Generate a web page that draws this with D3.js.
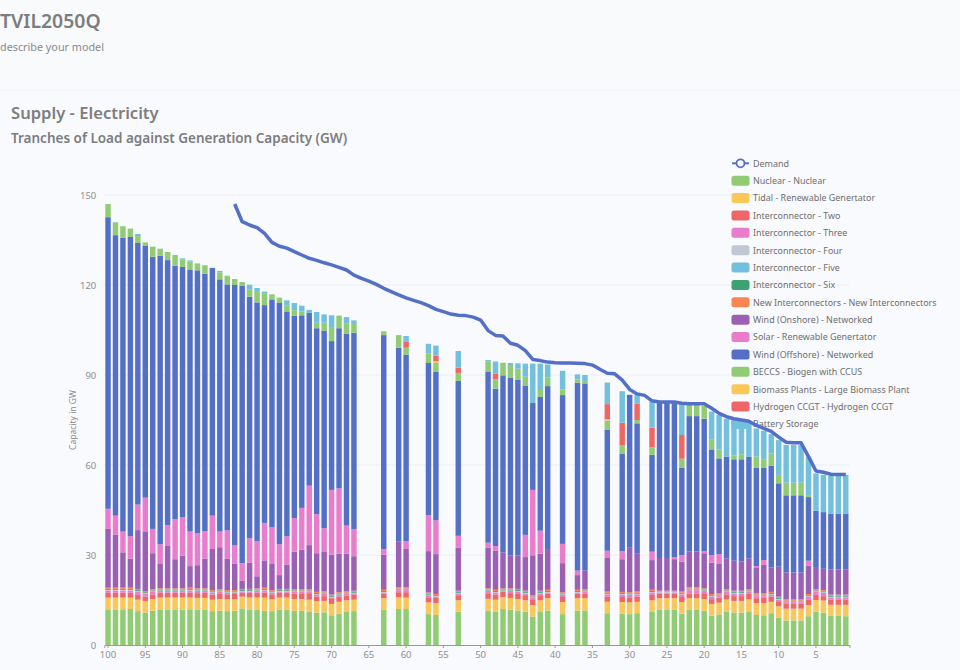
<!DOCTYPE html>
<html><head><meta charset="utf-8">
<script src="https://d3js.org/d3.v7.min.js"></script>
<style>
html,body{margin:0;padding:0;background:#f9fafc;overflow:hidden}
text{font-family:"Noto Sans","Open Sans",sans-serif}
</style></head><body><div id="chart"></div>
<script>
const allTranches=[100,99,98,97,96,95,94,93,92,91,90,89,88,87,86,85,84,83,82,81,80,79,78,77,76,75,74,73,72,71,70,69,68,67,66,65,64,63,62,61,60,59,58,57,56,55,54,53,52,51,50,49,48,47,46,45,44,43,42,41,40,39,38,37,36,35,34,33,32,31,30,29,28,27,26,25,24,23,22,21,20,19,18,17,16,15,14,13,12,11,10,9,8,7,6,5,4,3,2,1];
const xTickLabels=[100,95,90,85,80,75,70,65,60,55,50,45,40,35,30,25,20,15,10,5];
const yTickLabels=[0,30,60,90,120,150];
const barTranches=[100,99,98,97,96,95,94,93,92,91,90,89,88,87,86,85,84,83,82,81,80,79,78,77,76,75,74,73,72,71,70,69,68,67,
63,61,60,57,56,53,
49,48,47,46,45,44,43,42,41,
39,37,36,33,31,30,29,
27,26,25,24,23,22,21,20,19,18,17,16,15,14,13,12,11,10,9,8,7,6,5,4,3,2,1];
const demandTranches=[83,82,81,80,79,78,77,76,75,74,73,72,71,70,69,68,67,66,65,64,63,62,61,60,59,58,57,56,55,54,53,52,51,50,49,48,47,46,45,44,43,42,41,40,39,38,37,36,35,34,33,32,31,30,29,28,27,26,25,24,23,22,21,20,19,18,17,16,15,14,13,12,11,10,9,8,7,6,5,4,3,2,1];
const demand=[147,141.1,140,139.1,137.2,134.2,132.9,132.3,131.1,130,128.9,128.2,127.4,126.7,125.9,125,123.3,122.2,121.3,120.2,118.9,117.8,116.7,115.7,114.9,114.1,113.1,111.9,111.1,110.3,109.9,109.8,109.3,108.3,104.8,103.2,103,100.6,99.9,98.1,95.2,94.8,94.3,94.1,94,94,93.9,93.8,93.3,91.9,90.6,90.4,88.3,85.2,83.7,83.2,81.4,81,81,81,80.6,80.4,80.4,80.4,78.9,77.2,76.1,75.4,75,74.6,73.2,72.2,71.2,69.3,67.6,67.4,67.4,62.8,58,57.6,56.9,56.8,56.8];

const nuclear=[11.9,11.7,11.9,12,11.3,10.8,11.4,11.9,11.7,11.7,11.8,11.9,11.7,11.7,11.3,11.4,11.3,11.4,12.2,11.7,11.7,11.4,11.3,11.7,11.7,11.4,11.4,11.2,10.8,10.9,9.9,10.4,11,11.3,
11.7,12,12,10.3,10,11.1,
11.5,11.2,12,11.8,11.5,11.1,9.5,11,11.5,
10.3,11.5,11.5,10.6,10.4,10.3,10.6,
11,11.7,11.7,11.7,10.4,11.7,11.7,11.4,9.8,10.2,11.2,10.8,10.8,11.2,10,9.9,10.6,9.1,8.1,8.2,8.2,9.6,11.1,10.8,9.7,9.7,9.6];
const tidal=[3.9,4.1,3.9,3.8,3.8,3.8,3.9,3.9,4.1,4.1,4,3.9,4,4,3.8,3.9,3.9,3.8,3.9,4.1,4.1,4.4,3.9,4.1,4.1,3.9,3.9,3.9,3.8,3.8,3.8,4,3.9,3.8,
3.9,3.9,3.8,3.9,4,3.8,
3.9,3.9,4,3.9,3.8,3.8,3.8,3.9,4.1,
4,4.1,4.1,3.8,3.9,3.9,3.8,
3.9,3.9,3.9,3.9,3.9,3.9,3.9,3.9,3.9,3.9,4,3.9,3.9,4,3.9,4,3.8,3.8,4,3.9,3.9,3.7,3.9,4,3.7,3.7,3.8];
const interTwo=[1.6,1.6,1.6,1.6,1.6,1.5,1.6,1.6,1.6,1.6,1.6,1.6,1.6,1.7,1.7,1.7,1.7,1.8,1.3,1.6,1.6,1.6,1.7,1.6,1.6,1.9,1.7,1.9,1.6,1.6,1.9,1.7,1.5,1.6,
1.6,1.7,1.8,1.7,1.7,1.7,
1.6,1.7,1.8,1.6,1.7,1.7,1.7,1.7,1.6,
1.7,1.6,1.6,1.7,1.7,1.7,1.7,
1.8,1.6,1.6,1.6,1.7,1.6,1.6,1.7,1.6,1.7,1.7,1.6,1.6,1.8,1.7,1.8,1.7,1.7,1.6,1.6,1.6,1.9,1.7,1.5,1.8,1.8,1.8];
const interThree=[.8,.8,.8,.8,1.1,1,.8,.6,.6,.6,.6,.8,.7,.6,.6,.7,.5,.4,.4,.4,.6,.8,.5,.4,.4,.5,.7,.7,.6,.7,.3,.6,.6,.5,
.3,.7,.7,.7,.4,.6,
1,.7,.2,.7,.8,.6,.7,.6,.3,
.7,.3,.5,.8,.8,.8,.8,
.8,.3,.3,.3,.9,1.1,1.1,1,.8,.5,.8,.9,.9,.7,.7,.6,.7,.6,.6,.6,.6,.9,1,1.1,.7,.7,.7];
const interFour=[.1,.1,.1,.1,.1,.1,.1,.1,.1,.1,.1,.1,.1,.1,.1,.1,.1,.1,.1,.1,.1,.1,.1,.1,.1,.1,.1,.1,.1,.1,.1,.1,.1,.1,
.1,.1,.1,.1,.1,.1,
.1,.1,.1,.1,.1,.1,.1,.1,.1,
.1,.1,.1,.1,.1,.1,.1,
.1,.1,.1,.1,.1,.1,.1,.1,.1,.1,.1,.1,.1,.1,.1,.1,.1,.1,.1,.1,.1,.1,.1,.1,.1,.1,.1];
const interFive=[.1,.1,.1,.1,.1,.1,.1,.1,.1,.1,.1,.1,.1,.1,.1,.1,.1,.1,.1,.1,.1,.1,.1,.1,.1,.1,.1,.1,.1,.1,.1,.1,.1,.1,
.1,.1,.1,.1,.1,.1,
.1,.1,.1,.1,.1,.1,.1,.1,.1,
.1,.1,.1,.1,.1,.1,.1,
.1,.1,.1,.1,.1,.1,.1,.1,.1,.1,.1,.1,.1,.1,.1,.1,.1,.1,.1,.1,.1,.1,.1,.1,.1,.1,.1];
const interSix=[.3,.3,.3,.3,.3,.3,.3,.3,.3,.3,.3,.3,.3,.3,.3,.3,.3,.3,.3,.3,.3,.3,.3,.3,.3,.3,.3,.3,.3,.3,.3,.3,.3,.3,
.3,.3,.3,.3,.3,.3,
.3,.3,.3,.3,.3,.3,.3,.3,.3,
.3,.3,.3,.3,.3,.3,.3,
.3,.1,.1,.1,.3,.3,.3,.3,.3,.3,.3,.3,.3,.3,.3,.3,.3,.3,.3,.3,.3,.3,.3,.3,.3,.3,.3];
const newInter=[.4,.4,.4,.4,.4,.4,.4,.4,.4,.4,.4,.4,.4,.4,.4,.4,.4,.4,.4,.4,.4,.4,.4,.4,.4,.4,.4,.4,.4,.4,.4,.4,.4,.4,
.4,.4,.4,.4,.4,.4,
.4,.4,.4,.4,.4,.4,.4,.4,.4,
.4,.4,.4,.4,.4,.4,.4,
.4,.3,.3,.3,.4,.4,.4,.4,.4,.4,.4,.4,.4,.4,.4,.4,.4,.4,.4,.4,.4,.4,.4,.4,.4,.4,.4];
const windOnshore=[19.6,17.6,11.8,9.7,19.6,19.9,12,8.1,14.1,9.7,10.9,7.2,7.7,9.9,13.7,14,10.4,8.9,2.7,8.7,4,9.1,8.7,4.6,8,12.5,13.2,14.7,12.9,13.1,13.3,12.8,12.5,11.5,
11.7,15.4,12.8,13.8,13.3,14.3,
13.5,13,12,11,11.1,11.2,13.3,12.3,13.3,
9.7,4.9,6.3,11.2,10.9,15,12.8,
9.9,10.9,10.9,10.5,10,12,12,11.7,10.4,9.8,10.3,10,9.8,10.3,8.7,9.5,8.2,10,9,9,9,9.4,7.1,7.1,8.4,8.4,8.4];
const solar=[6.7,6.4,6.9,7.5,8.5,11.2,8.1,6.6,6.9,13.3,12.8,11.5,10.6,9.2,11.1,5.2,9.5,6,5.9,8.2,11.7,12.5,12.2,10.3,9.5,11.2,13.9,19.8,13,7.9,21.6,21.8,9.4,9,
1.9,0,2.6,12,11.3,4,
1.7,1.6,0,0,0,7.4,21.8,7.7,0,
6.4,1.5,0,2.4,2.7,0,0,
2.8,0,0,.6,2.2,0,0,.6,2.5,3.3,0,0,0,0,.4,1.6,0,0,0,0,0,1.7,0,0,0,0,0];
const windOffshore=[97.2,93.5,97.9,99.7,87.2,83.9,90.7,96.2,88.4,84.5,83.4,87.2,87.7,85.8,82.6,84.1,82,86.8,92.5,80.5,79.6,72.6,76,80.4,75,67.4,64.2,57.6,62,65.9,49.6,53.4,63.9,65.5,
71.3,64.5,62.2,50.7,49.4,51.6,
56.9,52.4,59,59.1,58.7,49.8,29,44.6,54.6,
49.6,62.6,62.3,40.3,32.4,50.8,43.3,
32.3,52.1,52.1,51.4,29,45.1,45.1,44.2,35.3,31.9,33.8,33.8,34,33.8,32.7,30.7,33.8,27.8,25.7,25.7,25.7,21.2,19.1,18.9,18.5,18.5,18.5];
const beccs=[4.4,4.3,3.9,2.8,2.3,1.2,3.4,2.3,2.7,3.6,2.6,2.8,2.3,2.8,0,2.3,2.9,2,1.2,2.3,3.5,4,1.7,1.8,1.9,1.9,1.3,0,1.8,2.6,4.4,4.2,3.4,2.9,
1.3,4.2,2.3,3.2,3.1,2.7,
3.6,3.2,4.2,4,3.6,2.9,0,2.3,2.9,
1.9,1.1,.8,3.1,2.8,0,1.1,
2.5,0,0,0,3.1,3.7,3.7,4.3,3.2,3,0,1.3,1.7,0,3.8,2.9,4.2,2.8,4.2,4.2,4.2,.4,0,0,0,0,0];
const biomass=[0,0,0,0,0,0,0,0,0,0,0,0,0,0,0,0,0,0,0,0,0,0,0,0,0,0,0,0,0,0,0,0,0,0,
0,0,0,0,.5,0,
0,0,0,0,0,0,0,0,0,
0,0,0,.4,0,0,0,
0,0,0,0,0,0,0,0,0,0,0,0,0,0,0,0,0,0,0,0,0,0,0,0,0,0,0];
const hydrogen=[0,0,0,0,0,0,0,0,0,0,0,0,0,0,0,0,0,0,0,0,0,0,0,0,0,0,0,0,0,0,0,0,0,0,
0,0,2.1,0,1.8,1.8,
0,1.9,0,0,0,0,0,0,0,
0,0,0,5.1,7.6,0,5.4,
6.5,0,0,0,7.9,0,0,0,0,0,0,0,0,0,0,0,0,0,0,0,0,0,0,0,0,0,0];
const battery=[0,0,0,0,.7,0,0,0,0,0,.3,.4,0,0,0,.5,0,0,0,1.7,1.3,.5,0,0,1.8,2.4,1.9,1,3.6,2.8,4.2,0,2.2,1.2,
0,0,1.8,3.2,3.4,5.5,
.4,4,0,1,1.8,4.4,13.1,8.8,4.3,
6.2,1.7,2,7.2,10.5,0,2.9,
8.7,0,0,0,10.6,0,0,0,9.4,11.5,12.7,11.8,11.4,11.7,9.4,9.5,6.4,11.6,12.6,12.6,12.6,13.1,12.4,12.4,12.7,12.7,13];

const legendNames=["Demand","Nuclear - Nuclear","Tidal - Renewable Genertator","Interconnector - Two","Interconnector - Three","Interconnector - Four","Interconnector - Five","Interconnector - Six","New Interconnectors - New Interconnectors","Wind (Onshore) - Networked","Solar - Renewable Genertator","Wind (Offshore) - Networked","BECCS - Biogen with CCUS","Biomass Plants - Large Biomass Plant","Hydrogen CCGT - Hydrogen CCGT","Battery Storage"];
const seriesColors=["#5470c6","#91cc75","#fac858","#ee6666","#ea7ccc","#c0c8d4","#73c0de","#3ba272","#fc8452","#9a60b4","#ea7ccc","#5470c6","#91cc75","#fac858","#ee6666","#73c0de"];
const stackSeries=[nuclear,tidal,interTwo,interThree,interFour,interFive,interSix,newInter,windOnshore,solar,windOffshore,beccs,biomass,hydrogen,battery];

const W=960,H=670;
const svg=d3.select("#chart").append("svg").attr("width",W).attr("height",H).style("display","block");
svg.append("rect").attr("x",-4).attr("y",90).attr("width",W+10).attr("height",H).attr("rx",6)
  .attr("fill","#f9fafd").attr("stroke","#f2f3f7");

const txtCol="#7d7d7d";
svg.append("text").attr("x",0).attr("y",28).attr("font-size",19.4).attr("font-weight",600).attr("fill",txtCol).text("TVIL2050Q");
svg.append("text").attr("x",0).attr("y",51).attr("font-size",10.8).attr("fill","#8a8a8a").text("describe your model");
svg.append("text").attr("x",11).attr("y",119).attr("font-size",16.6).attr("font-weight",600).attr("fill",txtCol).text("Supply - Electricity");
svg.append("text").attr("x",11).attr("y",143).attr("font-size",13.5).attr("font-weight",600).attr("fill",txtCol).text("Tranches of Load against Generation Capacity (GW)");

const x=d3.scaleBand().domain(allTranches).range([104.3,849.5]).paddingInner(.27).paddingOuter(.135);
const y=d3.scaleLinear().domain([0,150]).range([645,195]);

// grid + axes
svg.append("g").selectAll("line").data(yTickLabels.filter(d=>d>0)).join("line")
  .attr("x1",x.range()[0]).attr("x2",x.range()[1]).attr("y1",d=>y(d)).attr("y2",d=>y(d))
  .attr("stroke","#eceef5");
const yAxis=d3.axisLeft(y).tickValues(yTickLabels).tickSize(0).tickPadding(8);
const gy=svg.append("g").attr("transform",`translate(${x.range()[0]},0)`).call(yAxis);
gy.select(".domain").remove();
gy.selectAll("text").attr("font-size",9.5).attr("fill","#8f8f8f").style("font-family","'Noto Sans',sans-serif");
const xAxis=d3.axisBottom(x).tickValues(xTickLabels).tickSize(3).tickPadding(3);
const gx=svg.append("g").attr("transform","translate(0,645)").call(xAxis);
gx.select(".domain").attr("stroke","#9a9a9a");
gx.selectAll("line").attr("stroke","#9a9a9a");
gx.selectAll("text").attr("font-size",9.5).attr("fill","#8f8f8f").style("font-family","'Noto Sans',sans-serif");
svg.append("text").attr("transform",`translate(76,420) rotate(-90)`).attr("text-anchor","middle")
  .attr("font-size",8.5).attr("fill","#8a8a8a").text("Capacity in GW");

// legend (sits beneath the marks)
const legY=i=>163.3+i*17.38;
const leg=svg.append("g");
legendNames.forEach((n,i)=>{
  const g=leg.append("g").attr("transform",`translate(0,${legY(i)})`);
  if(i===0){
    g.append("line").attr("x1",732).attr("x2",749).attr("stroke",seriesColors[0]).attr("stroke-width",2);
    g.append("circle").attr("cx",740.5).attr("r",4).attr("fill","#f9fafd").attr("stroke",seriesColors[0]).attr("stroke-width",1.8);
  } else {
    g.append("rect").attr("x",731.5).attr("y",-5).attr("width",18).attr("height",10).attr("rx",2.5).attr("fill",seriesColors[i]);
  }
  g.append("text").attr("x",753).attr("y",3.3).attr("font-size",8.95).attr("fill","#6e6e6e").text(n);
});

// stacked bars
const rows=barTranches.map((t,i)=>{const r={tranche:t};stackSeries.forEach((s,k)=>r["s"+k]=s[i]);return r;});
const stack=d3.stack().keys(stackSeries.map((s,k)=>"s"+k))(rows);
svg.append("g").selectAll("g").data(stack).join("g").attr("fill",(d,i)=>seriesColors[i+1])
 .selectAll("rect").data(d=>d).join("rect")
  .attr("x",d=>x(d.data.tranche)).attr("width",x.bandwidth())
  .attr("y",d=>y(d[1])).attr("height",d=>Math.max(0,y(d[0])-y(d[1])));

// demand line
const line=d3.line().x((d,i)=>x(demandTranches[i])+x.bandwidth()/2).y(d=>y(d));
svg.append("path").attr("d",line(demand)).attr("fill","none").attr("stroke",seriesColors[0])
  .attr("stroke-width",3.5).attr("stroke-linejoin","round").attr("stroke-linecap","butt");
</script></body></html>
